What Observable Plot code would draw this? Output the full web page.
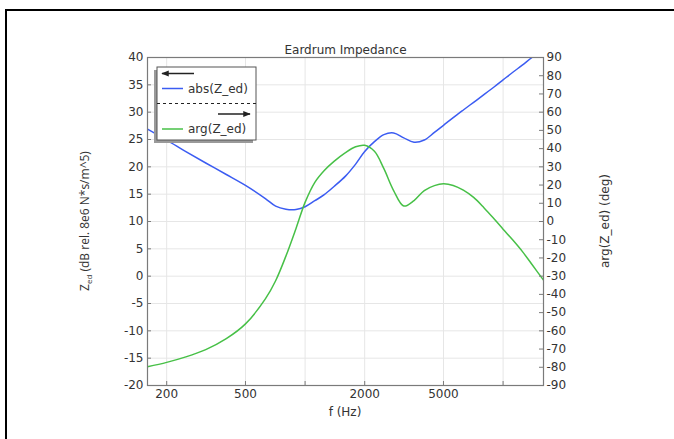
<!DOCTYPE html>
<html>
<head>
<meta charset="utf-8">
<script src="https://cdn.jsdelivr.net/npm/d3@7"></script>
<script src="https://cdn.jsdelivr.net/npm/@observablehq/plot@0.6"></script>
<style>
  html, body { margin: 0; padding: 0; background: #fff; overflow: hidden; }
  #wrap { position: relative; width: 674px; height: 439px; }
  #border { position: absolute; left: 5px; top: 9px; width: 900px; height: 900px; border: 2px solid #000; box-sizing: border-box; }
  #chart { position: absolute; left: 0; top: 0; }
</style>
</head>
<body>
<div id="wrap"><div id="border"></div><div id="chart"></div></div>
<script>
// Frequencies (Hz)
const freq = [160, 200, 250, 315, 400, 500, 630, 710, 800, 900, 1000, 1120, 1250, 1400, 1600, 1800, 2000, 2240, 2500, 2800, 3150, 3550, 4000, 4500, 5000, 5600, 6300, 7100, 8000, 9000, 10000, 11200, 12500, 14000, 16000];
// abs(Z_ed) in dB (left axis)
const absZ = [26.9, 24.9, 22.8, 20.7, 18.6, 16.6, 14.2, 12.8, 12.25, 12.2, 12.7, 13.8, 14.9, 16.4, 18.3, 20.5, 22.8, 24.6, 25.9, 26.2, 25.3, 24.5, 24.9, 26.3, 27.6, 29.0, 30.4, 31.8, 33.2, 34.6, 35.9, 37.3, 38.6, 40.0, 41.5];
// arg(Z_ed) in degrees (right axis)
const argZ = [-79.7, -77.3, -74.3, -70.3, -64.3, -56.2, -42.5, -32.5, -19, -3.8, 10.5, 21.5, 28, 33, 37.8, 41, 41.8, 38.5, 29, 17, 8.5, 11.5, 17, 19.7, 20.7, 19.8, 17.2, 13.2, 7.6, 1.5, -4.2, -10.2, -16.4, -23.6, -32.2];

const xTicks = [200, 500, 1000, 2000, 5000, 10000];
const xTickLabels = [200, 500, 2000, 5000];
const yTicksLeft = d3.range(-20, 41, 5);
const yTicksRight = d3.range(-90, 91, 10);
const seriesNames = ["abs(Z_ed)", "arg(Z_ed)"];
const seriesColors = ["#3b5cf2", "#47c047"];
const title = "Eardrum Impedance";

// map degrees (-90..90) onto left axis units (-20..40)
const toLeft = deg => deg / 3 + 10;
const fromLeft = v => (v - 10) * 3;

const absData = freq.map((f, i) => ({f, v: absZ[i]}));
const argData = freq.map((f, i) => ({f, v: toLeft(argZ[i])}));

const W = 674, H = 439, mL = 147, mR = 131, mT = 57, mB = 54;
const pw = W - mL - mR, ph = H - mT - mB;
const axisColor = "#7a7a7a";
const gridColor = "#e6e6e6";

const chart = Plot.plot({
  width: W, height: H,
  marginLeft: mL, marginRight: mR, marginTop: mT, marginBottom: mB,
  style: {fontFamily: "DejaVu Sans", fontSize: "12px", color: "#333", background: "transparent", overflow: "visible"},
  x: {type: "log", domain: [160, 16000], axis: null},
  y: {domain: [-20, 40], axis: null},
  marks: [
    Plot.gridX(xTicks, {stroke: gridColor, strokeOpacity: 1}),
    Plot.gridY(yTicksLeft, {stroke: gridColor, strokeOpacity: 1}),
    Plot.line(absData, {x: "f", y: "v", stroke: seriesColors[0], strokeWidth: 1.5, curve: "catmull-rom", clip: true}),
    Plot.line(argData, {x: "f", y: "v", stroke: seriesColors[1], strokeWidth: 1.5, curve: "catmull-rom", clip: true}),
    Plot.tickX(xTicks, {x: d => d, insetTop: ph - 4, stroke: axisColor}),
    Plot.tickY(yTicksLeft, {y: d => d, insetRight: pw - 4, stroke: axisColor}),
    Plot.tickY(yTicksRight.map(toLeft), {y: d => d, insetLeft: pw - 4, stroke: axisColor}),
    Plot.frame({stroke: axisColor, strokeWidth: 1.2}),
    Plot.text(xTickLabels, {x: d => d, frameAnchor: "bottom", dy: 12, text: d => String(d), fill: "#333"}),
    Plot.axisY(yTicksLeft, {anchor: "left", tickSize: 0, tickPadding: 4, label: null, tickFormat: d => String(d), fill: "#333"}),
    Plot.axisY(yTicksRight.map(toLeft), {anchor: "right", tickSize: 0, tickPadding: 3, label: null, tickFormat: v => String(Math.round(fromLeft(v))), fill: "#333"}),
    Plot.text([title], {frameAnchor: "top", dy: -12, fontSize: 12, fill: "#333"})
  ]
});
document.getElementById("chart").appendChild(chart);

const svg = d3.select(chart);
// axis labels
svg.append("text").attr("x", mL + pw / 2).attr("y", 416).attr("text-anchor", "middle")
  .attr("font-family", "DejaVu Sans").attr("font-size", 12).attr("fill", "#333").text("f (Hz)");
const yl = svg.append("text").attr("transform", `translate(89,${mT + ph / 2}) rotate(-90)`).attr("text-anchor", "middle")
  .attr("font-family", "Open Sans").attr("font-size", 12).attr("fill", "#333");
yl.append("tspan").text("Z");
yl.append("tspan").attr("font-size", 8).attr("dy", 3).text("ed");
yl.append("tspan").attr("dy", -3).text(" (dB rel. 8e6 N*s/m^5)");
svg.append("text").attr("transform", `translate(609,${mT + ph / 2}) rotate(-90)`).attr("text-anchor", "middle")
  .attr("font-family", "DejaVu Sans").attr("font-size", 12).attr("fill", "#333").text("arg(Z_ed) (deg)");

// legend
const lg = svg.append("g").attr("font-family", "DejaVu Sans").attr("font-size", 12).attr("fill", "#333").attr("text-anchor", "start");
const bx = 157, by = 67, bw = 99, bh = 73;
lg.append("rect").attr("x", bx - 3).attr("y", by + 3).attr("width", bw).attr("height", bh).attr("fill", "#9a9a9a");
lg.append("rect").attr("x", bx).attr("y", by).attr("width", bw).attr("height", bh).attr("fill", "#fff").attr("stroke", "#555").attr("stroke-width", 1);
const defs = svg.append("defs");
defs.append("marker").attr("id", "ah").attr("viewBox", "0 0 10 10").attr("refX", 9).attr("refY", 5)
  .attr("markerWidth", 5).attr("markerHeight", 5).attr("orient", "auto-start-reverse")
  .append("path").attr("d", "M0,1L10,5L0,9Z").attr("fill", "#222");
lg.append("line").attr("x1", 194).attr("x2", 162).attr("y1", 73.5).attr("y2", 73.5).attr("stroke", "#222").attr("stroke-width", 1.5).attr("marker-end", "url(#ah)");
lg.append("line").attr("x1", 218).attr("x2", 250).attr("y1", 114).attr("y2", 114).attr("stroke", "#222").attr("stroke-width", 1.5).attr("marker-end", "url(#ah)");
lg.append("line").attr("x1", bx).attr("x2", bx + bw).attr("y1", 103.5).attr("y2", 103.5).attr("stroke", "#222").attr("stroke-dasharray", "3,3");
[[88.5, 0], [129, 1]].forEach(([yy, i]) => {
  lg.append("line").attr("x1", 162).attr("x2", 183).attr("y1", yy).attr("y2", yy).attr("stroke", seriesColors[i]).attr("stroke-width", 1.5);
  lg.append("text").attr("x", 188).attr("y", yy).attr("dy", "0.35em").text(seriesNames[i]);
});
</script>
</body>
</html>
